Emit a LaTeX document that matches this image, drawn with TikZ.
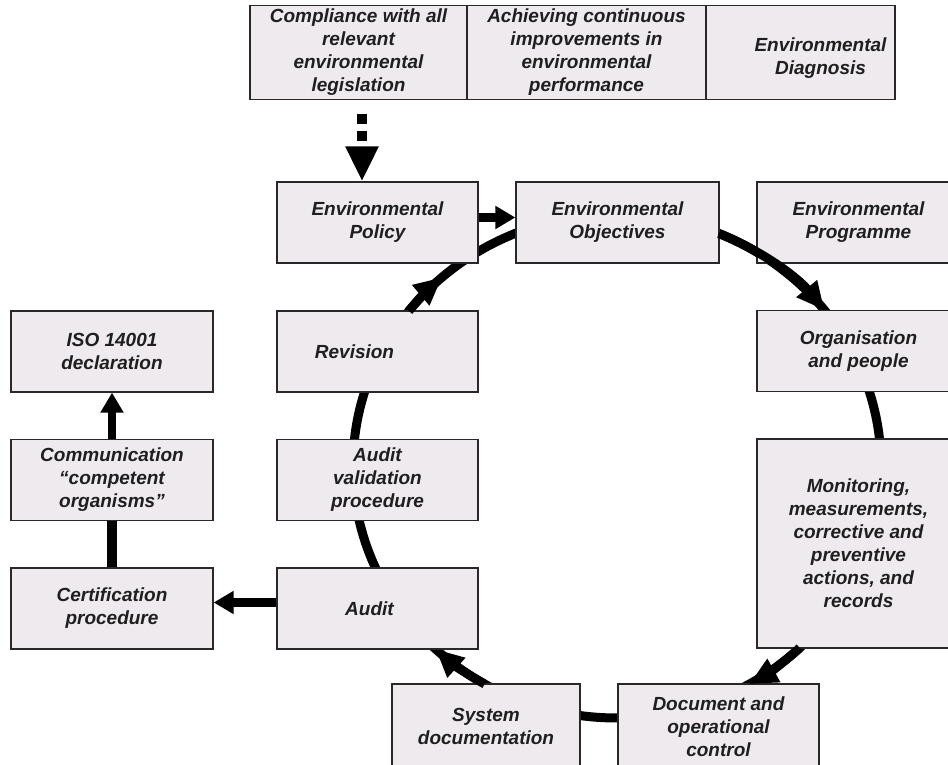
\documentclass[tikz,border=0pt]{standalone}
\usepackage{fontspec}
\newfontfamily\boxfont{Liberation Sans}
\usetikzlibrary{arrows.meta}
\usetikzlibrary{backgrounds}
\usetikzlibrary{calc}

\definecolor{boxfill}{RGB}{238,234,238}
\definecolor{boxline}{RGB}{40,40,40}

\tikzset{
  stepbox/.style={draw=boxline, line width=1.3pt, fill=boxfill, align=center,
    inner sep=2pt, minimum width=201pt, minimum height=81pt, text=black!88,
    font=\boxfont\bfseries\itshape\fontsize{19pt}{23pt}\selectfont},
  aimbox/.style={stepbox, minimum height=94pt},
  ring/.style={line width=9pt},
  ringtip/.style={ring, -{Triangle[width=25pt,length=28pt]}},
  flow/.style={line width=9pt, -{Triangle[width=22pt,length=20pt]}},
}

\begin{document}
\begin{tikzpicture}[x=1pt,y=1pt]
\useasboundingbox (0,0) rectangle (948,765);
\clip (0,0) rectangle (948,765);
% aims on top
\node[aimbox, minimum width=217pt] (comp) at (358.5,712.5) {Compliance with all\\relevant\\environmental\\legislation};
\node[aimbox, minimum width=239pt] (ach) at (586.5,712.5) {Achieving continuous\\improvements in\\environmental\\performance};
\node[aimbox, minimum width=189pt] (diag) at (800.5,712.5) {\rule{0pt}{24pt}\hspace*{40pt}Environmental\\\hspace*{40pt}Diagnosis};
% the cycle
\node[stepbox] (policy) at (377.5,542.5) {Environmental\\Policy};
\node[stepbox, minimum width=203pt] (obj) at (617.5,542.5) {Environmental\\Objectives};
\node[stepbox, minimum width=203pt] (prog) at (858.5,542.5) {Environmental\\Programme};
\node[stepbox, minimum width=203pt] (org) at (858.5,414) {Organisation\\and people};
\node[stepbox, minimum width=203pt, minimum height=209pt] (mon) at (858.5,221.5) {Monitoring,\\measurements,\\corrective and\\preventive\\actions, and\\records};
\node[stepbox, minimum height=85pt] (doc) at (718.5,38.5) {Document and\\operational\\control};
\node[stepbox, minimum width=188pt, minimum height=85pt] (sysdoc) at (486,38.5) {System\\documentation};
\node[stepbox] (audit) at (377.5,156.5) {Audit\hspace*{16pt}};
\node[stepbox] (auval) at (377.5,285) {Audit\\validation\\procedure};
\node[stepbox] (rev) at (377.5,413.5) {Revision\hspace*{46pt}};
% certification branch
\node[stepbox, minimum width=202pt] (cert) at (112,156.5) {Certification\\procedure};
\node[stepbox, minimum width=202pt] (comm) at (112,285) {Communication\\“competent\\organisms”};
\node[stepbox, minimum width=202pt] (iso) at (112,413.5) {ISO 14001\\declaration};

\coordinate (c) at (617,299);
\begin{scope}[on background layer]
  \draw[ring] (c) ellipse[x radius=264pt, y radius=252pt];
\end{scope}
\draw[ringtip] ($(c)+(142.05:264pt and 252pt)$) arc[start angle=142.05, end angle=131.5, x radius=264pt, y radius=252pt];
\draw[ringtip] ($(c)+(67.3:264pt and 252pt)$) arc[start angle=67.3, end angle=38.2, x radius=264pt, y radius=252pt];
\draw[ringtip] ($(c)+(-46.2:264pt and 252pt)$) arc[start angle=-46.2, end angle=-59.9, x radius=264pt, y radius=252pt];
\draw[ringtip] ($(c)+(-120.1:264pt and 252pt)$) arc[start angle=-120.1, end angle=-133.4, x radius=264pt, y radius=252pt];

\draw[line width=10pt, dash pattern=on 10pt off 7pt, shorten <=13.5pt, -{Triangle[width=31pt,length=35pt]}] ([xshift=3.5pt]comp.south) -- ([xshift=3.5pt]comp.south |- policy.north);
\draw[flow] ([yshift=5pt]policy.east) -- ([yshift=5pt]obj.west);
\draw[flow] ([yshift=6pt]audit.west) -- ([yshift=6pt]cert.east);
\draw[line width=10pt] (cert.north) -- (comm.south);
\draw[line width=8pt, -{Triangle[width=22pt,length=20pt]}] (comm.north) -- (iso.south);
\end{tikzpicture}
\end{document}
